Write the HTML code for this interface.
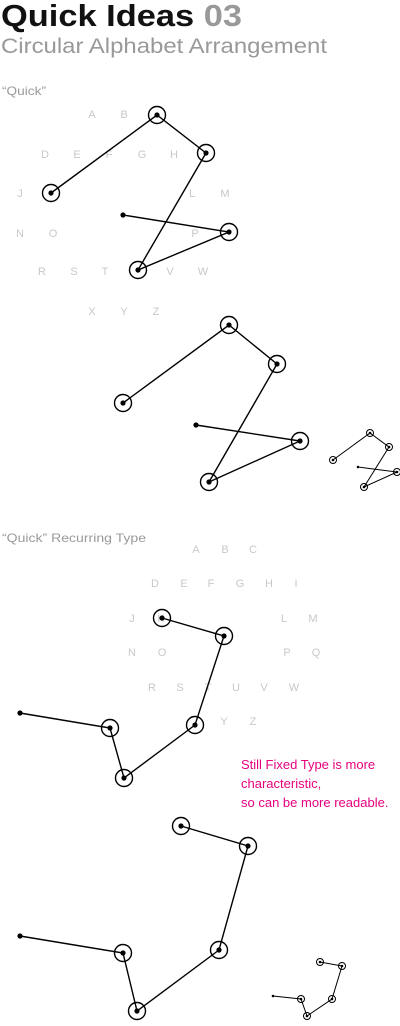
<!DOCTYPE html>
<html><head><meta charset="utf-8"><style>
html,body{margin:0;padding:0;background:#fff}
svg{display:block}
text{font-family:"Liberation Sans",sans-serif}
</style></head><body>
<svg width="400" height="1026" viewBox="0 0 400 1026">
<text x="1" y="26" font-size="31" font-weight="bold" fill="#111" textLength="241" lengthAdjust="spacingAndGlyphs">Quick Ideas <tspan fill="#999">03</tspan></text>
<text x="1" y="53" font-size="21" fill="#999" textLength="326" lengthAdjust="spacingAndGlyphs">Circular Alphabet Arrangement</text>
<text x="2" y="95" font-size="12" fill="#999" textLength="44" lengthAdjust="spacingAndGlyphs">“Quick”</text>
<text x="2" y="542" font-size="12" fill="#999" textLength="144" lengthAdjust="spacingAndGlyphs">“Quick”  Recurring Type</text>
<g fill="#e6007e" font-size="13">
<text x="241" y="769">Still Fixed Type is more</text>
<text x="241" y="788">characteristic,</text>
<text x="241" y="807">so can be more readable.</text>
</g>
<g id="layer"></g>
</svg>
<script>
const lettersTop = [["A",92,114],["B",124,114],["D",45,154],["E",77,154],["F",109,154],["G",142,154],["H",174,154],["J",20,193],["L",192,193],["M",225,193],["N",20,233],["O",53,233],["P",195,233],["R",42,271],["S",74,271],["T",105,271],["V",170,271],["W",203,271],["X",92,311],["Y",124,311],["Z",156,311]];
const lettersBottom = [["A",196,549],["B",225,549],["C",253,549],["D",155,583],["E",184,583],["F",211,583],["G",240,583],["H",269,583],["I",296,583],["J",132,618],["K",161,618],["L",284,618],["M",313,618],["N",132,652],["O",162,652],["P",287,652],["Q",316,652],["R",152,687],["S",180,687],["T",208,687],["U",236,687],["V",264,687],["W",294,687],["Y",224,721],["Z",253,721]];
const pathTop = [[123,215],[229,232],[138,270],[206,153],[157,115],[51,193]];
const pathTopBig = [[196,425],[300,441],[209,482],[277,364],[229,325],[123,403]];
const pathTopSmall = [[358,467],[397,472],[364,487],[389,447],[370,433],[333,460]];
const pathBot = [[20,713],[110,728],[124,778],[195,725],[224,636],[162,618]];
const pathBotBig = [[20,936],[123,953],[137,1011],[219,950],[248,846],[181,826]];
const pathBotSmall = [[273,996],[301,999],[307,1016],[332,999],[342,966],[320,962]];
const NS="http://www.w3.org/2000/svg";
const layer=document.getElementById('layer');
function letters(arr,name){
  const g=document.createElementNS(NS,'g');
  
  
  arr.forEach(([c,x,y])=>{
    const t=document.createElementNS(NS,'text');
    t.setAttribute('x',x);t.setAttribute('y',y+4);
    t.setAttribute('text-anchor','middle');t.setAttribute('font-size','11');t.setAttribute('fill','#c8c8c8');
    
    
    t.textContent=c;g.appendChild(t);
  });
  layer.appendChild(g);
}
function stroke(pts,r,dot,w,name){
  const g=document.createElementNS(NS,'g');
  
  
  const pl=document.createElementNS(NS,'polyline');
  pl.setAttribute('points',pts.map(p=>p.join(',')).join(' '));
  pl.setAttribute('fill','none');pl.setAttribute('stroke','#000');pl.setAttribute('stroke-width',w);
  
  
  g.appendChild(pl);
  pts.forEach((p,i)=>{
    const d=document.createElementNS(NS,'circle');
    d.setAttribute('cx',p[0]);d.setAttribute('cy',p[1]);d.setAttribute('r',dot);d.setAttribute('fill','#000');
    
    
    g.appendChild(d);
    if(i>0){
      const c=document.createElementNS(NS,'circle');
      c.setAttribute('cx',p[0]);c.setAttribute('cy',p[1]);c.setAttribute('r',r);
      c.setAttribute('fill','none');c.setAttribute('stroke','#000');c.setAttribute('stroke-width',w);
      
      
      g.appendChild(c);
    }
  });
  layer.appendChild(g);
}
letters(lettersTop,'alphabet-circle-top');
letters(lettersBottom,'alphabet-circle-bottom');
stroke(pathTop,8.5,2.6,1.4,'quick-path-top');
stroke(pathTopBig,8.5,2.6,1.4,'quick-path-large');
stroke(pathTopSmall,3.5,1.3,1,'quick-path-small');
stroke(pathBot,8.5,2.6,1.4,'recurring-path-top');
stroke(pathBotBig,8.5,2.6,1.4,'recurring-path-large');
stroke(pathBotSmall,3.5,1.3,1,'recurring-path-small');
</script>
</body></html>
